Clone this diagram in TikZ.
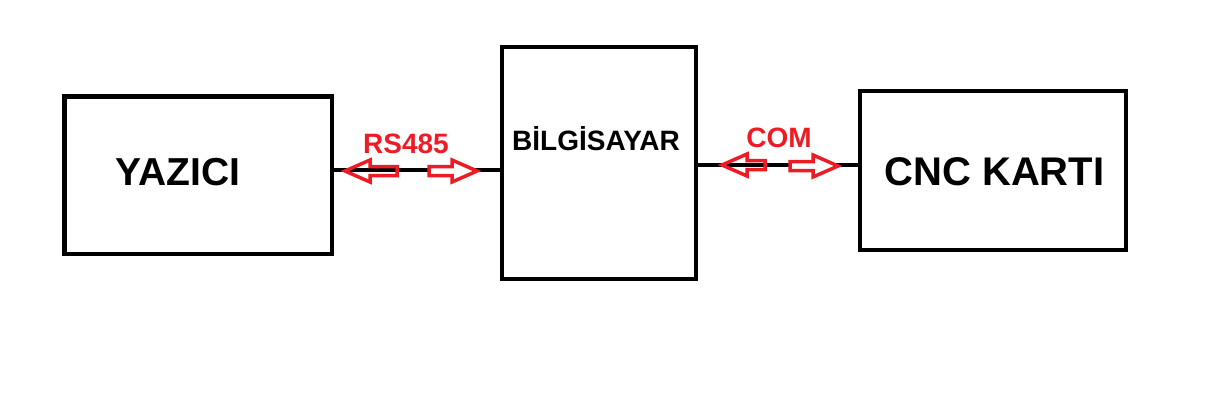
\documentclass[tikz,border=0pt]{standalone}
\usepackage{fontspec}
\setmainfont{Liberation Sans}
\definecolor{paintred}{RGB}{237,28,36}

\begin{document}
\begin{tikzpicture}[x=1pt,y=-1pt]
\tikzstyle{box}=[rectangle, draw=black, line width=4.5pt, inner sep=0pt]
\tikzstyle{connect}=[black, line width=4pt]
\tikzstyle{title}=[inner sep=0pt, font=\bfseries]
\tikzstyle{tag}=[inner sep=0pt, text=paintred, font=\fontsize{28}{28}\selectfont\bfseries]
\tikzstyle{arrowline}=[draw=paintred, line width=3.5pt, line join=miter]
\tikzset{blockarrow/.pic={
  \path[arrowline]
    (0,-4.5) -- (#1-25,-4.5) -- (#1-25,-11) -- (#1,0) -- (#1-25,11) -- (#1-25,4.5) -- (0,4.5) -- cycle;}}
\useasboundingbox (0,0) rectangle (1224,404);
  \node[box, minimum width=267.5, minimum height=157.5] (yazici) at (198.25,175.25) { };
  \node[box, minimum width=194, minimum height=232] (pc) at (599,163) { };
  \node[box, minimum width=266, minimum height=159] (cnc) at (993,170.5) { };
  \node[title, font=\fontsize{39}{39}\selectfont\bfseries] (t1) at (178,172) {YAZICI};
  \node[title, font=\fontsize{28}{28}\selectfont\bfseries] (t2) at (596,139) {BİLGİSAYAR};
  \node[title, font=\fontsize{40}{40}\selectfont\bfseries] (t3) at (994.5,172) {CNC KARTI};
  \node[tag] (rs) at (406,144) {RS485};
  \node[tag] (com) at (779,138) {COM};
  \draw[connect] ([yshift=5.25pt]yazici.east) -- ([yshift=5.25pt]yazici.east -| pc.west);
  \draw[connect] ([yshift=-1.5pt]pc.east) -- ([yshift=-1.5pt]pc.east -| cnc.west);
  % arrows on the links
  \pic[xscale=-1] at (397,171) {blockarrow=52};
  \pic[arrowline/.append style={fill=white}] at (429,171) {blockarrow=48};
  \pic[xscale=-1] at (765,165) {blockarrow=43};
  \pic[arrowline/.append style={fill=white}] at (790,166) {blockarrow=48};
\end{tikzpicture}
\end{document}
